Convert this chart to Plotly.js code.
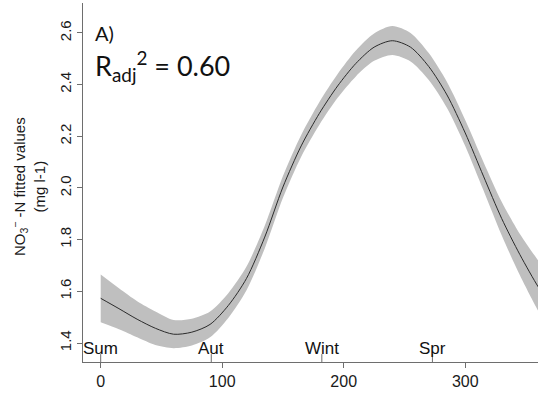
<!DOCTYPE html>
<html>
<head>
<meta charset="utf-8">
<script src="https://cdn.plot.ly/plotly-3.0.1.min.js"></script>
<style>html,body{margin:0;padding:0;background:#fff;}#chart{width:538px;height:393px;}</style>
</head>
<body>
<div id="chart"></div>
<script>
// Day of year (from summer start) and fitted NO3-N values with confidence band
const day   = [0, 15, 30, 45, 60, 75, 90, 105, 120, 135, 150, 165, 180, 195, 210, 225, 240, 255, 270, 285, 300, 315, 330, 345, 360, 365];
const fit   = [1.573, 1.533, 1.492, 1.457, 1.434, 1.442, 1.472, 1.545, 1.650, 1.810, 2.004, 2.163, 2.289, 2.395, 2.482, 2.545, 2.570, 2.545, 2.470, 2.360, 2.213, 2.046, 1.882, 1.742, 1.618, 1.585];
const upper = [1.665, 1.612, 1.562, 1.522, 1.489, 1.494, 1.522, 1.593, 1.696, 1.854, 2.046, 2.205, 2.333, 2.441, 2.532, 2.598, 2.627, 2.600, 2.522, 2.410, 2.263, 2.101, 1.947, 1.822, 1.720, 1.690];
const lower = [1.480, 1.453, 1.422, 1.392, 1.380, 1.390, 1.422, 1.497, 1.604, 1.766, 1.962, 2.121, 2.245, 2.349, 2.432, 2.492, 2.515, 2.490, 2.418, 2.310, 2.163, 1.991, 1.817, 1.662, 1.525, 1.485];

// Season markers
const seasonDays   = [0, 91, 182, 273];
const seasonLabels = ["Sum", "Aut", "Wint", "Spr"];

// Axis ticks
const xTicks = [0, 100, 200, 300];
const yTicks = [1.4, 1.6, 1.8, 2.0, 2.2, 2.4, 2.6];
const yTickText = ["1.4", "1.6", "1.8", "2.0", "2.2", "2.4", "2.6"];

const panelLabel = "A)";
const r2Text = "R<sub>adj</sub><sup>2</sup> = 0.60";
const yTitle = "NO<sub>3</sub><sup>−</sup> -N fitted values<br>(mg l-1)";

const axisGrey = "#6e6e6e";
const tickFont = {family: "Liberation Sans, Arial, sans-serif", size: 16, color: "#1a1a1a"};

const traces = [
  {x: day, y: lower, type: "scatter", mode: "lines", line: {width: 0, color: "#bfbfbf", shape: "spline", smoothing: 0.8}, hoverinfo: "skip", showlegend: false},
  {x: day, y: upper, type: "scatter", mode: "lines", line: {width: 0, color: "#bfbfbf", shape: "spline", smoothing: 0.8}, fill: "tonexty", fillcolor: "#bfbfbf", hoverinfo: "skip", showlegend: false},
  {x: day, y: fit, type: "scatter", mode: "lines", line: {width: 1, color: "#2b2b2b", shape: "spline", smoothing: 0.8}, showlegend: false}
];

const shapes = seasonDays.map(d => ({
  type: "line", xref: "x", yref: "paper", x0: d, x1: d, y0: 0, y1: 0.022,
  line: {color: axisGrey, width: 1}
}));

const annotations = seasonDays.map((d, i) => ({
  x: d, y: 0, xref: "x", yref: "paper", text: seasonLabels[i], showarrow: false,
  xanchor: "center", yanchor: "bottom", yshift: 2,
  font: {family: "Liberation Sans, Arial, sans-serif", size: 17, color: "#111"}
}));
annotations.push({
  x: 0.022, y: 0.955, xref: "paper", yref: "paper", text: panelLabel, showarrow: false,
  xanchor: "left", yanchor: "top", font: {family: "Lato, sans-serif", size: 20, color: "#111"}
});
annotations.push({
  x: 0.022, y: 0.885, xref: "paper", yref: "paper", text: r2Text, showarrow: false,
  xanchor: "left", yanchor: "top", font: {family: "Lato, sans-serif", size: 27, color: "#111"}
});
annotations.push({
  x: -0.121, y: 0.49, xref: "paper", yref: "paper", text: yTitle, showarrow: false,
  textangle: -90, xanchor: "center", yanchor: "middle",
  font: {family: "Liberation Sans, Arial, sans-serif", size: 15, color: "#1a1a1a"}
});

const layout = {
  width: 538, height: 393,
  margin: {l: 83, r: 0, t: 3, b: 31},
  paper_bgcolor: "#fff", plot_bgcolor: "#fff",
  showlegend: false,
  xaxis: {
    range: [-14.57, 359.9], tickvals: xTicks, ticks: "outside", ticklen: 5, tickcolor: axisGrey,
    showline: true, linecolor: axisGrey, linewidth: 1, showgrid: false, zeroline: false,
    tickfont: tickFont
  },
  yaxis: {
    range: [1.3265, 2.716], tickvals: yTicks, ticktext: yTickText, tickangle: -90,
    ticks: "outside", ticklen: 5, tickcolor: axisGrey,
    showline: true, linecolor: axisGrey, linewidth: 1, showgrid: false, zeroline: false,
    tickfont: {family: "Liberation Sans, Arial, sans-serif", size: 15, color: "#1a1a1a"}
  },
  shapes: shapes,
  annotations: annotations
};

Plotly.newPlot("chart", traces, layout, {displayModeBar: false, staticPlot: true});
</script>
</body>
</html>
